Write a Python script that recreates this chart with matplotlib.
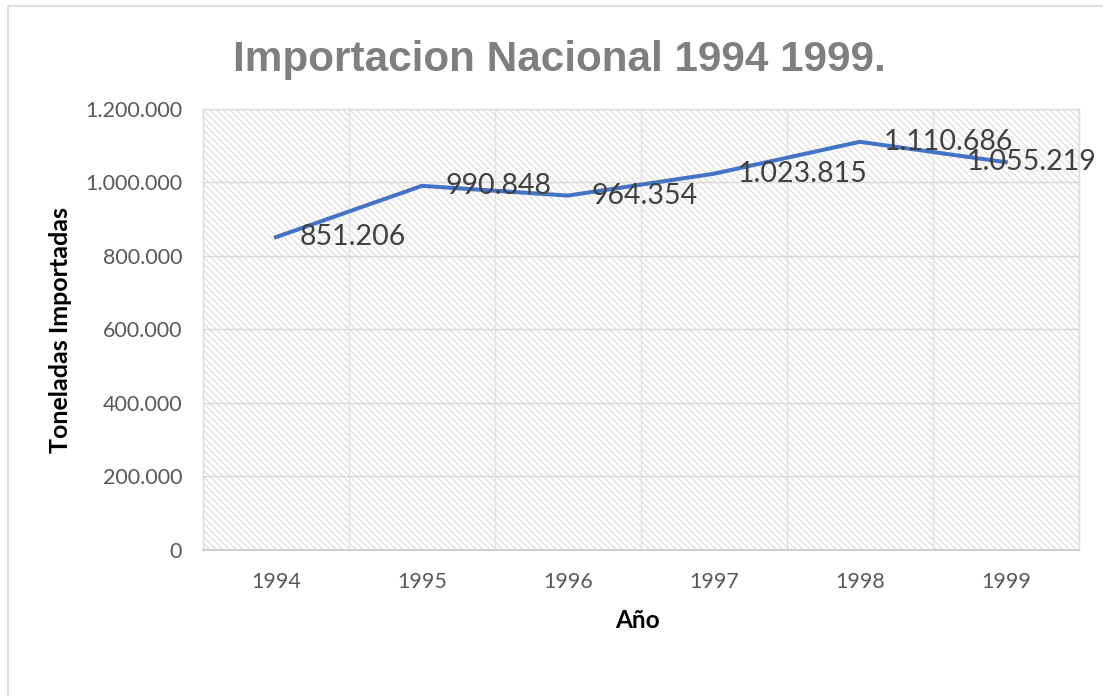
import numpy as np
from matplotlib import pyplot as plt
from matplotlib.patches import Rectangle

# Data
years = ["1994", "1995", "1996", "1997", "1998", "1999"]
toneladas = [851206, 990848, 964354, 1023815, 1110686, 1055219]
y_ticks = [0, 200000, 400000, 600000, 800000, 1000000, 1200000]


def miles(v):
    # Spanish style thousands separator
    return f"{v:,}".replace(",", ".")


def main():
    dpi = 100
    fig = plt.figure(figsize=(1103 / dpi, 696 / dpi), dpi=dpi)
    ax = fig.add_axes([0.184, 0.2098, 0.978 - 0.184, 0.8434 - 0.2098])

    # Outer chart border (only top and left edges visible)
    fig.patches.append(Rectangle((8 / 1103, -0.1), 1.2, 1.1 - 6 / 696,
                                 transform=fig.transFigure, fill=False,
                                 edgecolor="#d9d9d9", lw=1.3))

    # Hatched plot area
    ax.set_facecolor("white")
    plt.rcParams["hatch.linewidth"] = 1.0
    ax.add_patch(Rectangle((0, 0), 1, 1, transform=ax.transAxes,
                           facecolor="white", edgecolor="#e0e0e0",
                           hatch="\\" * 5, lw=0, zorder=0))

    x = np.arange(len(years))
    ax.plot(x, toneladas, color="#4472c4", lw=2.9, zorder=3,
            solid_joinstyle="round")

    # Data labels to the right of each point; last one kept inside the chart
    for i, v in enumerate(toneladas):
        if i == len(toneladas) - 1:
            off, ha = 65.5, "right"
        else:
            off, ha = 17, "left"
        ax.annotate(miles(v), (x[i], v), xytext=(off, 0),
                    textcoords="offset points", ha=ha, va="center",
                    fontsize=20.5, family="Lato", color="#404040",
                    zorder=4, annotation_clip=False)

    ax.set_xlim(-0.5, len(years) - 0.5)
    ax.set_ylim(0, 1200000)
    ax.set_xticks(x)
    ax.set_xticklabels(years)
    ax.set_yticks(y_ticks)
    ax.set_yticklabels([miles(t) for t in y_ticks])
    ax.set_xticks(np.arange(-0.5, len(years), 0.5), minor=True)

    ax.grid(axis="y", which="major", color="#d9d9d9", lw=1.05, zorder=1)
    ax.grid(axis="x", which="minor", color="#e3e3e3", lw=1.05, zorder=1)
    ax.set_axisbelow(True)

    for s in ax.spines.values():
        s.set_color("#dedede")
        s.set_linewidth(1.05)
    ax.spines["bottom"].set_color("#d0d0d0")
    ax.spines["bottom"].set_linewidth(1.45)

    ax.tick_params(which="both", length=0)
    ax.tick_params(axis="x", pad=16, labelsize=15.5, labelcolor="#595959")
    ax.tick_params(axis="y", pad=15, labelsize=15.5, labelcolor="#595959")
    for lab in ax.get_xticklabels() + ax.get_yticklabels():
        lab.set_family("Lato")

    fig.text(0.507, 0.914, "Importacion Nacional 1994 1999.",
             ha="center", va="center", fontsize=30.4, fontweight="bold",
             family="Liberation Sans", color="#7f7f7f")
    fig.text(0.0544, 0.526, "Toneladas Importadas", rotation=90,
             ha="center", va="center", fontsize=18, fontweight="bold",
             family="Lato", color="black")
    fig.text(0.578, 0.108, "Año", ha="center", va="center",
             fontsize=17.6, fontweight="bold", family="Lato", color="black")

    fig.savefig("out.png", dpi=dpi)


if __name__ == "__main__":
    main()
